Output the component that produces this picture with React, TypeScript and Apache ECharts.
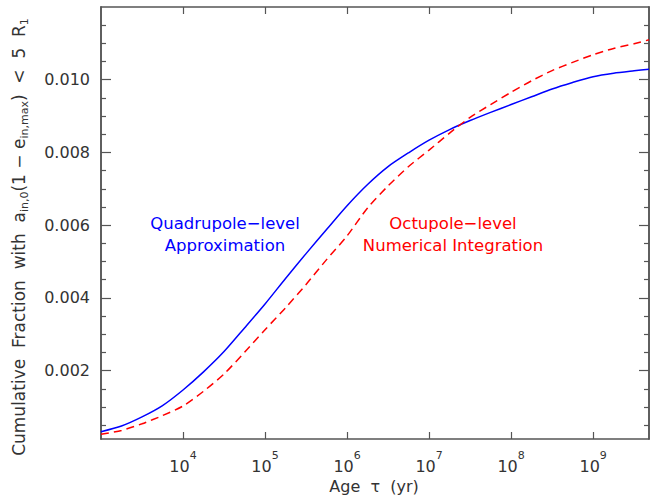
import React, { useEffect, useRef } from 'react';
import * as echarts from 'echarts';

const ages = [
  1000, 1778, 3162, 5623, 1e4, 1.778e4, 3.162e4, 5.623e4, 1e5, 1.778e5, 3.162e5, 5.623e5,
  1e6, 1.778e6, 3.162e6, 5.623e6, 1e7, 1.778e7, 3.162e7, 5.623e7, 1e8, 1.778e8, 3.162e8,
  5.623e8, 1e9, 1.778e9, 3.162e9, 4.8e9,
];
const quadrupole = [
  0.000321, 0.000478, 0.000728, 0.001039, 0.001468, 0.001966, 0.002524, 0.003174, 0.003834,
  0.004535, 0.005218, 0.005881, 0.006535, 0.007119, 0.007611, 0.007991, 0.008337, 0.008629,
  0.008877, 0.009102, 0.009317, 0.009531, 0.009746, 0.009925, 0.010084, 0.010181, 0.010247,
  0.010291,
];
const octupole = [
  0.000249, 0.000354, 0.000538, 0.000764, 0.001028, 0.001432, 0.001908, 0.002505, 0.003127,
  0.003727, 0.00437, 0.005053, 0.005705, 0.006475, 0.00708, 0.007614, 0.008065, 0.008533,
  0.008965, 0.009317, 0.009655, 0.009971, 0.010252, 0.010478, 0.010687, 0.01086, 0.010992,
  0.011097,
];
const xTickValues = [1e4, 1e5, 1e6, 1e7, 1e8, 1e9];
const yTickValues = [0.002, 0.004, 0.006, 0.008, 0.01];
const yMinorValues = [
  0.0005, 0.001, 0.0015, 0.0025, 0.003, 0.0035, 0.0045, 0.005, 0.0055, 0.0065, 0.007, 0.0075,
  0.0085, 0.009, 0.0095, 0.0105, 0.011, 0.0115,
];

const FONT = 'DejaVu Sans';
const AXIS_COLOR = '#555';
const TEXT_COLOR = '#333';

export default function App() {
  const ref = useRef<HTMLDivElement>(null);
  useEffect(() => {
    if (!ref.current) return;
    const chart = echarts.init(ref.current, undefined, { renderer: 'svg' });
    const xBase = {
      type: 'log' as const,
      logBase: 10,
      min: 1000,
      max: 4.8e9,
      gridIndex: 0,
      splitLine: { show: false },
      axisLine: { show: true, lineStyle: { color: AXIS_COLOR, width: 1.5 } },
      axisTick: { show: true, inside: true, length: 7, customValues: xTickValues, lineStyle: { color: AXIS_COLOR, width: 1.2 } },
      minorTick: { show: false },
    };
    const yBase = {
      type: 'value' as const,
      min: 0.00012,
      max: 0.012,
      gridIndex: 0,
      splitLine: { show: false },
      axisLine: { show: true, lineStyle: { color: AXIS_COLOR, width: 1.5 } },
      axisLabel: { show: false },
    };
    const lineSty = { color: AXIS_COLOR, width: 1.2 };
    chart.setOption({
      animation: false,
      backgroundColor: '#fff',
      grid: { left: 101, top: 7, right: 1, bottom: 56, containLabel: false, outerBoundsMode: 'none' },
      xAxis: [
        {
          ...xBase,
          position: 'bottom',
          axisLabel: {
            show: true,
            customValues: xTickValues,
            margin: 11,
            formatter: (v: number) => '{b|10}{s|' + Math.round(Math.log10(v)) + '}',
            rich: {
              b: { fontFamily: FONT, fontSize: 16, color: TEXT_COLOR, lineHeight: 24, verticalAlign: 'bottom' },
              s: { fontFamily: FONT, fontSize: 11, color: TEXT_COLOR, lineHeight: 24, verticalAlign: 'top' },
            },
          },
        },
        { ...xBase, position: 'top', axisLabel: { show: false } },
      ],
      yAxis: [
        {
          ...yBase,
          position: 'left',
          axisTick: { show: true, inside: true, length: 10, customValues: yTickValues, lineStyle: lineSty },
          axisLabel: {
            show: true,
            customValues: yTickValues,
            margin: 11,
            fontFamily: FONT,
            fontSize: 16,
            color: TEXT_COLOR,
            formatter: (v: number) => v.toFixed(3),
          },
        },
        {
          ...yBase,
          position: 'left',
          axisTick: { show: true, inside: true, length: 5, customValues: yMinorValues, lineStyle: lineSty },
        },
        {
          ...yBase,
          position: 'right',
          axisTick: { show: true, inside: true, length: 10, customValues: yTickValues, lineStyle: lineSty },
        },
        {
          ...yBase,
          position: 'right',
          axisTick: { show: true, inside: true, length: 5, customValues: yMinorValues, lineStyle: lineSty },
        },
      ],
      series: [
        {
          type: 'line',
          name: 'Quadrupole-level Approximation',
          xAxisIndex: 0,
          yAxisIndex: 0,
          data: ages.map((a, i) => [a, quadrupole[i]]),
          showSymbol: false,
          smooth: 0.25,
          lineStyle: { color: '#0000ff', width: 1.5, type: 'solid' },
        },
        {
          type: 'line',
          name: 'Octupole-level Numerical Integration',
          xAxisIndex: 0,
          yAxisIndex: 0,
          data: ages.map((a, i) => [a, octupole[i]]),
          showSymbol: false,
          smooth: 0.25,
          lineStyle: { color: '#ff0000', width: 1.5, type: [8, 5] },
        },
      ],
      graphic: [
        {
          type: 'text',
          x: 20,
          y: 237,
          rotation: Math.PI / 2,
          style: {
            text: '{n|Cumulative  Fraction  with  a}{s|in,0}{n|(1 − e}{s|in,max}{n|)  <  5  R}{s|1}',
            align: 'center',
            verticalAlign: 'middle',
            rich: {
              n: { fontFamily: FONT, fontSize: 17, fill: TEXT_COLOR, lineHeight: 19, verticalAlign: 'top' },
              s: { fontFamily: FONT, fontSize: 11, fill: TEXT_COLOR, lineHeight: 19, verticalAlign: 'bottom' },
            },
          },
        },
        {
          type: 'text',
          x: 374,
          y: 486,
          style: {
            text: 'Age  τ  (yr)',
            align: 'center',
            verticalAlign: 'middle',
            fontFamily: FONT,
            fontSize: 16,
            fill: TEXT_COLOR,
          },
        },
        {
          type: 'text',
          x: 225,
          y: 234,
          style: {
            text: 'Quadrupole−level\nApproximation',
            align: 'center',
            verticalAlign: 'middle',
            fontFamily: FONT,
            fontSize: 16.5,
            lineHeight: 22,
            fill: '#0000ff',
          },
        },
        {
          type: 'text',
          x: 453,
          y: 234,
          style: {
            text: 'Octupole−level\nNumerical Integration',
            align: 'center',
            verticalAlign: 'middle',
            fontFamily: FONT,
            fontSize: 16.5,
            lineHeight: 22,
            fill: '#ff0000',
          },
        },
      ],
    });
    return () => chart.dispose();
  }, []);
  return (
    <div
      ref={ref}
      style={{ position: 'fixed', left: 0, top: 0, width: 650, height: 495, background: '#fff' }}
    />
  );
}
